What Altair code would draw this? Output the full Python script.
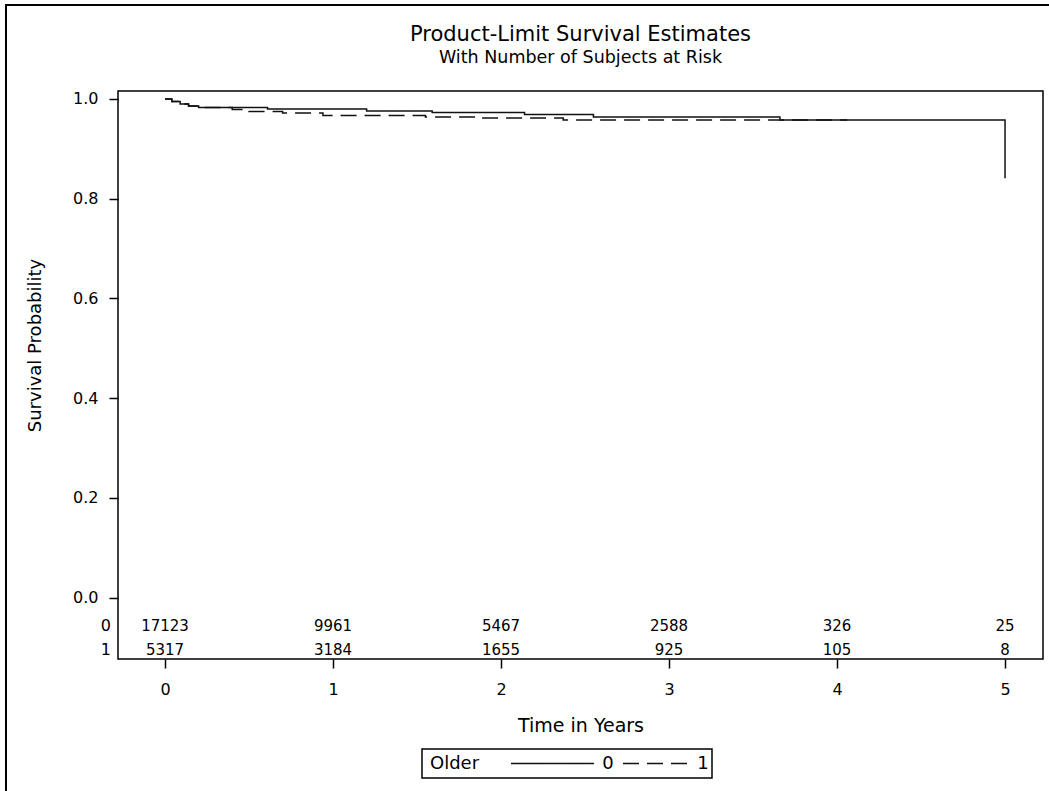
import altair as alt
import pandas as pd

# Kaplan-Meier step estimates by age group (Older = 0 / 1)
groups = ["0", "1"]
km_times_0 = [0.0, 0.04, 0.09, 0.14, 0.20, 0.61, 1.20, 1.59, 2.14, 2.55, 3.66, 5.0]
km_surv_0 = [1.000, 0.995, 0.990, 0.986, 0.983, 0.980, 0.976, 0.973, 0.969, 0.964, 0.958, 0.841]
km_times_1 = [0.0, 0.04, 0.09, 0.14, 0.20, 0.40, 0.50, 0.70, 0.94, 1.55, 1.88, 2.37, 4.06]
km_surv_1 = [1.000, 0.995, 0.990, 0.986, 0.983, 0.979, 0.975, 0.972, 0.967, 0.964, 0.962, 0.958, 0.958]

# Number of subjects at risk
risk_years = [0, 1, 2, 3, 4, 5]
risk_0 = [17123, 9961, 5467, 2588, 326, 25]
risk_1 = [5317, 3184, 1655, 925, 105, 8]

x_ticks = [0, 1, 2, 3, 4, 5]
y_ticks = [0.0, 0.2, 0.4, 0.6, 0.8, 1.0]

title_text = "Product-Limit Survival Estimates"
subtitle_text = "With Number of Subjects at Risk"
legend_title = "Older"

FONT = "DejaVu Sans"
W, H = 925, 568
DASHES = {groups[0]: [1, 0], groups[1]: [16, 8]}

rows = []
for g, ts, ss in [(groups[0], km_times_0, km_surv_0), (groups[1], km_times_1, km_surv_1)]:
    for i, (t, s) in enumerate(zip(ts, ss)):
        rows.append({"group": g, "t": t, "s": s, "order": i})
km = pd.DataFrame(rows)

x_scale = alt.Scale(domain=[-0.28, 5.226], nice=False, zero=False)
y_scale = alt.Scale(domain=[-0.123, 1.016], nice=False, zero=False)

lines = alt.Chart(km).mark_line(
    interpolate="step-after", color="#111111", strokeWidth=1.5
).encode(
    x=alt.X("t:Q", scale=x_scale, axis=alt.Axis(
        values=x_ticks, format="d", title="Time in Years",
        titleY=66, titleBaseline="middle", labelPadding=13,
    )),
    y=alt.Y("s:Q", scale=y_scale, axis=alt.Axis(
        values=y_ticks, format=".1f", title="Survival Probability",
        titleX=-83, titleY=254, titleAlign="center", titleBaseline="middle",
        titleAngle=270, labelPadding=11,
    )),
    strokeDash=alt.StrokeDash(
        "group:N",
        scale=alt.Scale(domain=groups, range=[DASHES[g] for g in groups]),
        legend=None,
    ),
    order="order:Q",
)

risk_df0 = pd.DataFrame({"t": risk_years, "n": risk_0})
risk_df1 = pd.DataFrame({"t": risk_years, "n": risk_1})
row_y = [535, 559]

risk_layers = []
for g, df, yy in [(groups[0], risk_df0, row_y[0]), (groups[1], risk_df1, row_y[1])]:
    risk_layers.append(
        alt.Chart(df).mark_text(font=FONT, fontSize=15, color="black", baseline="middle").encode(
            x=alt.X("t:Q", scale=x_scale), y=alt.value(yy), text="n:Q"
        )
    )
    risk_layers.append(
        alt.Chart(pd.DataFrame({"g": [g]})).mark_text(
            font=FONT, fontSize=16, color="black", baseline="middle", align="right"
        ).encode(x=alt.value(-7), y=alt.value(yy), text="g:N")
    )

one = pd.DataFrame({"k": [0]})
title_mark = alt.Chart(one).mark_text(
    font=FONT, fontSize=21, color="black", baseline="middle", align="center", text=title_text
).encode(x=alt.value(W / 2), y=alt.value(-56))
subtitle_mark = alt.Chart(one).mark_text(
    font=FONT, fontSize=17.5, color="black", baseline="middle", align="center", text=subtitle_text
).encode(x=alt.value(W / 2), y=alt.value(-33))

outer_frame = alt.Chart(one).mark_rect(
    fillOpacity=0, stroke="black", strokeWidth=2
).encode(x=alt.value(-112), x2=alt.value(W + 200), y=alt.value(-86), y2=alt.value(H + 300))

# Boxed legend below the axis title: "Older  ——— 0  — — — 1"
LEG_TOP, LEG_BOT = 658, 687
LEG_MID = (LEG_TOP + LEG_BOT) / 2
legend_box = alt.Chart(one).mark_rect(
    fill="white", stroke="black", strokeWidth=1.5
).encode(x=alt.value(304), x2=alt.value(594), y=alt.value(LEG_TOP), y2=alt.value(LEG_BOT))
legend_head = alt.Chart(one).mark_text(
    font=FONT, fontSize=18, color="black", baseline="middle", align="left", text=legend_title
).encode(x=alt.value(312), y=alt.value(LEG_MID))

legend_layers = []
for g, (sx1, sx2, lx) in zip(groups, [(393, 476, 490), (505, 572, 585)]):
    gdf = pd.DataFrame({"group": [g]})
    legend_layers.append(
        alt.Chart(gdf).mark_rule(color="#111111", strokeWidth=1.5, strokeDash=DASHES[g]).encode(
            x=alt.value(sx1), x2=alt.value(sx2), y=alt.value(LEG_MID)
        )
    )
    legend_layers.append(
        alt.Chart(gdf).mark_text(
            font=FONT, fontSize=18, color="black", baseline="middle", align="center"
        ).encode(x=alt.value(lx), y=alt.value(LEG_MID), text="group:N")
    )

chart = alt.layer(
    outer_frame, lines, *risk_layers, title_mark, subtitle_mark,
    legend_box, legend_head, *legend_layers
).properties(
    width=W, height=H,
    autosize=alt.AutoSizeParams(type="none"),
    padding={"left": 118, "top": 91, "right": 6, "bottom": 132},
    background="white",
).configure_view(
    stroke="black", strokeWidth=1.5, fill="white"
).configure_axis(
    grid=False, domain=False, labelFont=FONT, titleFont=FONT,
    labelFontSize=16, titleFontWeight="normal",
    labelColor="black", titleColor="black", tickColor="black",
    tickSize=9, tickWidth=1.5,
).configure_axisX(
    titleFontSize=19
).configure_axisY(
    titleFontSize=18
)

chart.save("out.html", embed_options={"renderer": "svg", "actions": False})
